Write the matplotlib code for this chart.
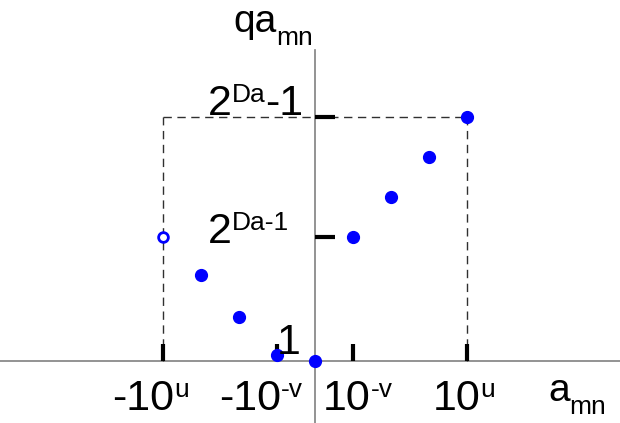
import numpy as np
import matplotlib
matplotlib.use("Agg")
import matplotlib.pyplot as plt

plt.rcParams['font.family'] = ['Liberation Sans', 'DejaVu Sans']

# quantised values (x in steps, y in levels)
neg_x = [-4, -3, -2, -1]
neg_y = [3.1, 2.15, 1.1, 0.15]
zero_x = [0]
zero_y = [0]
pos_x = [1, 2, 3, 4]
pos_y = [3.1, 4.1, 5.1, 6.1]

x_ticks = [-4, -1, 1, 4]
x_bases = ['-10', '-10', '10', '10']
x_sups = ['u', '-v', '-v', 'u']
y_ticks = [3.1, 6.1]

blue = '#0000ff'
fs = 31      # big labels
fs_sup = 19  # superscripts / subscripts
fs_ax = 28   # axis names


def px(x):
    return (x - 315) / 38


def py(y):
    return (361 - y) / 40


fig = plt.figure(figsize=(6.2, 4.23), dpi=100)
ax = fig.add_axes([0, 0, 1, 1])
ax.set_xlim(px(0), px(620))
ax.set_ylim(py(423), py(0))
ax.axis('off')
renderer = fig.canvas.get_renderer()


def chain(x, y, parts):
    # draw pieces of text one after another, each one starting where the last ended
    for txt, size, dy in parts:
        t = ax.text(x, y + dy, txt, fontsize=size, ha='left', va='baseline')
        bb = t.get_window_extent(renderer=renderer)
        x = ax.transData.inverted().transform((bb.x1, bb.y0))[0]


# axes lines
ax.axhline(0, color='#808080', lw=1.2, zorder=1)
ax.plot([0, 0], [py(423) - 1, py(50)], color='#808080', lw=1.2, zorder=1)

# dashed box
dash = (0, (6, 4))
ax.plot([x_ticks[0], x_ticks[-1]], [pos_y[-1], pos_y[-1]], ls=dash, color='#303030', lw=1, zorder=1)
ax.plot([x_ticks[0], x_ticks[0]], [0, pos_y[-1]], ls=dash, color='#303030', lw=1, zorder=1)
ax.plot([x_ticks[-1], x_ticks[-1]], [0, pos_y[-1]], ls=dash, color='#303030', lw=1, zorder=1)

# thick ticks
for xt in x_ticks:
    ax.plot([xt, xt], [0, 0.42], color='black', lw=3, solid_capstyle='butt', zorder=2)
for yt in y_ticks:
    ax.plot([0, 0.52], [yt, yt], color='black', lw=3, solid_capstyle='butt', zorder=2)

# points
ax.plot(neg_x[1:], neg_y[1:], 'o', color=blue, ms=8.5, zorder=3)
ax.plot(neg_x[:1], neg_y[:1], 'o', mfc='white', mec=blue, mew=2, ms=7, zorder=3)
ax.plot(zero_x, zero_y, 'o', color=blue, ms=8.5, zorder=3)
ax.plot(pos_x, pos_y, 'o', color=blue, ms=8.5, zorder=3)

# tick labels
up = 13 / 40
down = 13 / 40
lefts = [112, 219, 323, 433]
for left, b, s in zip(lefts, x_bases, x_sups):
    chain(px(left), py(410), [(b, fs, 0), (s, fs_sup, up)])

chain(px(208), py(115), [('2', fs, 0), ('Da', fs_sup, up), ('-1', fs, 0)])
chain(px(208), py(243), [('2', fs, 0), ('Da-1', fs_sup, up)])
chain(px(277), py(354), [('1', fs, 0)])

chain(px(233), py(32), [('qa', fs_ax, 0), ('mn', fs_sup, -down)])
chain(px(548), py(401), [('a', fs_ax, 0), ('mn', fs_sup, -down)])

fig.savefig('out.png', dpi=100)
